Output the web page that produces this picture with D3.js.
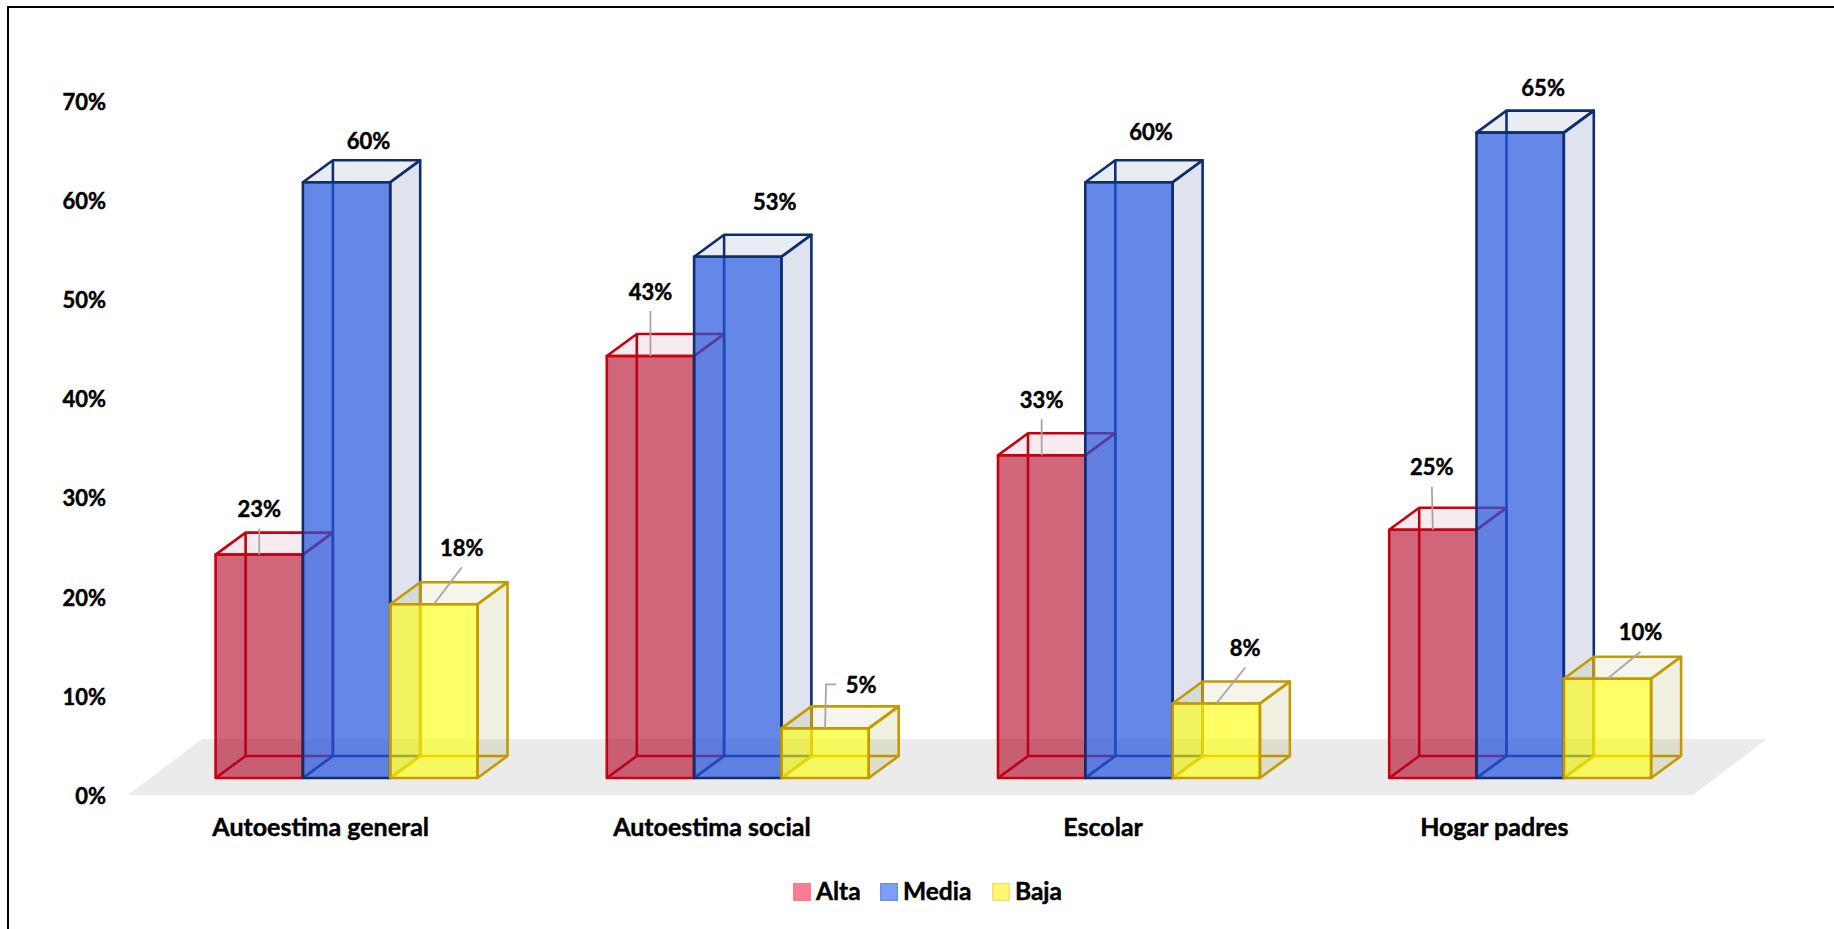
<!DOCTYPE html>
<html>
<head>
<meta charset="utf-8">
<script src="https://cdn.jsdelivr.net/npm/d3@7"></script>
<style>
html, body { margin: 0; padding: 0; background: #fff; overflow: hidden; }
svg { display: block; }
text { font-family: Lato, "Open Sans", sans-serif; font-weight: 700; fill: #000; stroke: #000; stroke-width: 0.45px; }
</style>
</head>
<body>
<svg width="1834" height="929"></svg>
<script>
var categories = ["Autoestima general", "Autoestima social", "Escolar", "Hogar padres"];
var seriesNames = ["Alta", "Media", "Baja"];
var alta = [22.5, 42.5, 32.5, 25];
var media = [60, 52.5, 60, 65];
var baja = [17.5, 5, 7.5, 10];
var yTicks = [0, 10, 20, 30, 40, 50, 60, 70];

// label nudges from the top centre of each bar's front: [dx, dy, leader kind]
var altaNudges = [[0, -45, "line"], [0, -64, "line"], [0, -55, "line"], [-1, -62, "line"]];
var mediaNudges = [[22, -41, ""], [37, -54, ""], [22, -50, ""], [23, -44, ""]];
var bajaNudges = [[28, -56, "line"], [36, -43, "elbow"], [29, -55, "line"], [33, -46, "line"]];

var values = [alta, media, baja];
var nudges = [altaNudges, mediaNudges, bajaNudges];

var styles = {
	Alta: { edge: "#c8000f", front: "#b10021", frontOp: 0.6, tint: "#8c0028", sideOp: 0.1, topOp: 0.08, key: "#f87c92", keyEdge: "#fb7f80" },
	Media: { edge: "#0f2e70", front: "#2455de", frontOp: 0.7, tint: "#33508c", sideOp: 0.16, topOp: 0.11, key: "#7b9ffa", keyEdge: "#7090d8" },
	Baja: { edge: "#c49a00", front: "#ffff00", frontOp: 0.6, tint: "#808000", sideOp: 0.12, topOp: 0.08, key: "#fdfa72", keyEdge: "#fbdc6c" }
};

var depthX = 30, depthY = 22, baseY = 778, barWidth = 87.3;

var svg = d3.select("svg");

var x = d3.scaleBand().domain(categories).range([150.6, 1715.4]);
var xInner = d3.scaleBand().domain(seriesNames).range([65, 65 + barWidth * 3]);
var y = d3.scaleLinear().domain([0, 70]).range([baseY, baseY - 695]);
var yLabels = d3.scaleLinear().domain([0, 70]).range([796.5, 102]);

// picture frame, only top and left edges show
svg.append("path")
	.attr("d", "M8,929V7H1834")
	.attr("fill", "none")
	.attr("stroke", "#000")
	.attr("stroke-width", 2);

// floor
svg.append("polygon")
	.attr("points", [[128, 795], [202, 739], [1767, 739], [1693, 795]].join(" "))
	.attr("fill", "#ebebeb");

var yAxis = svg.append("g")
	.attr("class", "axis axis--y")
	.attr("transform", "translate(106,0)")
	.call(d3.axisLeft(yLabels).tickValues(yTicks).tickSize(0).tickPadding(0).tickFormat(function(d){ return d + "%"; }));
yAxis.select(".domain").remove();
yAxis.selectAll("text").style("font-size", "22px").style("font-family", null);

var xAxis = svg.append("g")
	.attr("class", "axis axis--x")
	.attr("transform", "translate(-25.5,818)")
	.call(d3.axisBottom(x).tickSize(0).tickPadding(0));
xAxis.select(".domain").remove();
xAxis.selectAll("text").style("font-size", "25px").style("font-family", null);

var bars = [];
categories.forEach(function(c, i){
	seriesNames.forEach(function(s, j){
		bars.push({ category: c, series: s, value: values[j][i], nudge: nudges[j][i] });
	});
});
// boxes are layered series by series, left to right
bars.sort(function(a, b){ return seriesNames.indexOf(a.series) - seriesNames.indexOf(b.series); });

function corners(d) {
	var x0 = x(d.category) + xInner(d.series), x1 = x0 + barWidth, top = y(d.value);
	return { x0: x0, x1: x1, top: top };
}

var box = svg.selectAll(".box")
	.data(bars)
	.enter()
	.append("g")
	.attr("class", "box")
	.attr("fill", "none")
	.attr("stroke-width", 2.6)
	.attr("stroke-linejoin", "round")
	.attr("stroke", function(d){ return styles[d.series].edge; });

// hidden edges, seen through the front
box.append("path")
	.attr("d", function(d){
		var c = corners(d), bx = c.x0 + depthX, by = baseY - depthY;
		return "M" + c.x0 + "," + baseY + "L" + bx + "," + by
			+ "V" + (c.top - depthY)
			+ "M" + bx + "," + by + "H" + (c.x1 + depthX);
	});

box.append("polygon")
	.attr("class", "side")
	.attr("points", function(d){
		var c = corners(d);
		return [[c.x1, baseY], [c.x1 + depthX, baseY - depthY], [c.x1 + depthX, c.top - depthY], [c.x1, c.top]].join(" ");
	})
	.attr("fill", function(d){ return styles[d.series].tint; })
	.attr("fill-opacity", function(d){ return styles[d.series].sideOp; });

box.append("polygon")
	.attr("class", "top")
	.attr("points", function(d){
		var c = corners(d);
		return [[c.x0, c.top], [c.x0 + depthX, c.top - depthY], [c.x1 + depthX, c.top - depthY], [c.x1, c.top]].join(" ");
	})
	.attr("fill", function(d){ return styles[d.series].tint; })
	.attr("fill-opacity", function(d){ return styles[d.series].topOp; });

box.append("rect")
	.attr("class", "front")
	.attr("x", function(d){ return corners(d).x0; })
	.attr("y", function(d){ return y(d.value); })
	.attr("width", barWidth)
	.attr("height", function(d){ return baseY - y(d.value); })
	.attr("fill", function(d){ return styles[d.series].front; })
	.attr("fill-opacity", function(d){ return styles[d.series].frontOp; });

// leader lines
function labelPos(d) {
	var c = corners(d);
	return { px: (c.x0 + c.x1) / 2, py: c.top, lx: (c.x0 + c.x1) / 2 + d.nudge[0], ly: c.top + d.nudge[1] };
}

svg.selectAll(".leader")
	.data(bars.filter(function(d){ return d.nudge[2]; }))
	.enter()
	.append("path")
	.attr("class", "leader")
	.attr("fill", "none")
	.attr("stroke", "#a6a6a6")
	.attr("stroke-width", 1.8)
	.attr("d", function(d){
		var p = labelPos(d);
		if (d.nudge[2] === "elbow") {
			return "M" + (p.lx - 25) + "," + (p.ly - 1) + "H" + (p.px + 1) + "L" + p.px + "," + p.py;
		}
		return "M" + p.lx + "," + (p.ly + 19) + "L" + p.px + "," + p.py;
	});

svg.selectAll(".value")
	.data(bars)
	.enter()
	.append("text")
	.attr("class", "value")
	.attr("text-anchor", "middle")
	.attr("dy", "0.35em")
	.style("font-size", "22px")
	.attr("x", function(d){ return labelPos(d).lx; })
	.attr("y", function(d){ return labelPos(d).ly; })
	.text(function(d){ return Math.round(d.value) + "%"; });

// legend
var keyX = d3.scaleOrdinal().domain(seriesNames).range([793, 880, 992]);

var key = svg.selectAll(".key")
	.data(seriesNames)
	.enter()
	.append("g")
	.attr("class", "key")
	.attr("transform", function(d){ return "translate(" + keyX(d) + ",883)"; });

key.append("rect")
	.attr("x", 0.75)
	.attr("y", 0.75)
	.attr("width", 16.5)
	.attr("height", 16.5)
	.attr("fill", function(d){ return styles[d].key; })
	.attr("stroke", function(d){ return styles[d].keyEdge; })
	.attr("stroke-width", 1.5);

key.append("text")
	.attr("x", 23)
	.attr("y", 17)
	.style("font-size", "24.5px")
	.text(function(d){ return d; });
</script>
</body>
</html>
